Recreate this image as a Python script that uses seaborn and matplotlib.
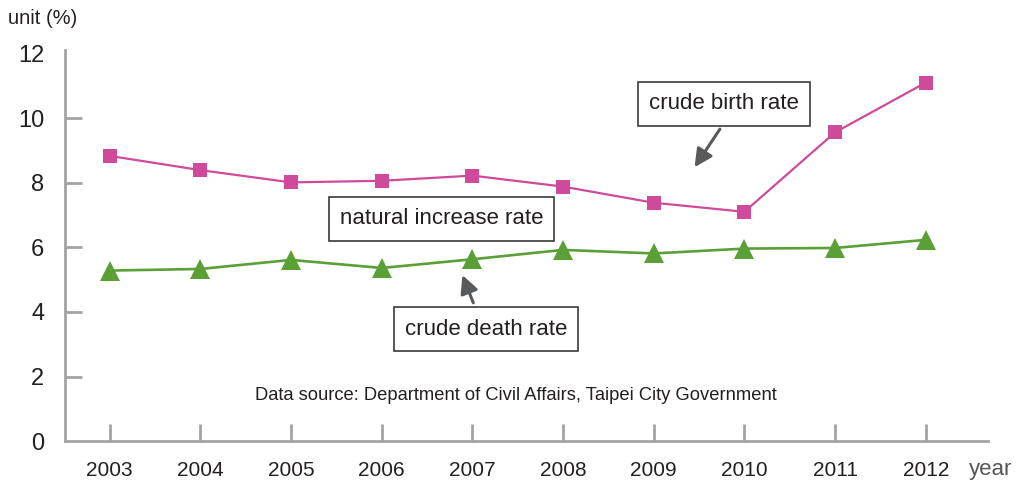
import matplotlib
matplotlib.use("Agg")
import matplotlib.pyplot as plt
import seaborn as sns
import pandas as pd

years = [2003, 2004, 2005, 2006, 2007, 2008, 2009, 2010, 2011, 2012]
birth_rate = [8.83, 8.39, 8.01, 8.06, 8.22, 7.88, 7.38, 7.10, 9.56, 11.10]
death_rate = [5.28, 5.33, 5.61, 5.36, 5.63, 5.92, 5.81, 5.96, 5.98, 6.23]
y_ticks = [0, 2, 4, 6, 8, 10, 12]

PINK = "#cf4a9b"
GREEN = "#5aa036"
AXIS = "#a3a3a5"
TEXT = "#231f20"

sns.set_theme(style="white")
plt.rcParams["font.family"] = ["Liberation Sans", "DejaVu Sans"]

df_birth = pd.DataFrame({"year": years, "rate": birth_rate})
df_death = pd.DataFrame({"year": years, "rate": death_rate})

fig = plt.figure(figsize=(10.22, 4.8), dpi=100)
ax = fig.add_axes([65.3 / 1022, 1 - 441.1 / 480, (988.3 - 65.3) / 1022, (441.1 - 50.3) / 480])

sns.lineplot(data=df_birth, x="year", y="rate", ax=ax, color=PINK, lw=1.6,
             marker="s", markersize=9.8, markeredgewidth=0, markerfacecolor=PINK)
sns.lineplot(data=df_death, x="year", y="rate", ax=ax, color=GREEN, lw=1.9,
             marker="^", markersize=14.5, markeredgewidth=0, markerfacecolor=GREEN)

ax.set_xlim(2002.51, 2012.69)
ax.set_ylim(0, 12.1)
ax.set_xlabel("")
ax.set_ylabel("")
ax.set_xticks(years)
ax.set_xticklabels([str(y) for y in years])
ax.set_yticks(y_ticks)
ax.set_yticklabels([str(v) for v in y_ticks])

for s in ["top", "right"]:
    ax.spines[s].set_visible(False)
for s in ["left", "bottom"]:
    ax.spines[s].set_color(AXIS)
    ax.spines[s].set_linewidth(2.0)

ax.tick_params(axis="both", direction="in", length=12, width=2.0, color=AXIS,
               labelcolor=TEXT)
ax.tick_params(axis="y", pad=15, labelsize=17, left=True)
ax.tick_params(axis="x", pad=14, labelsize=15, bottom=True)
for lab in ax.get_yticklabels():
    lab.set_family(["Liberation Sans Narrow", "Liberation Sans", "DejaVu Sans"])
ax.yaxis.get_major_ticks()[-1].tick1line.set_visible(False)
ax.yaxis.get_major_ticks()[0].tick1line.set_visible(False)

# axis titles
fig.text(8 / 1022, 1 - 19 / 480, "unit (%)", fontsize=14.5, color=TEXT, va="center", ha="left")
fig.text(969 / 1022, 1 - 469 / 480, "year", fontsize=16, color="#555555", va="center",
         ha="left", fontweight="light")

# source
ax.text(2007.48, 1.40, "Data source: Department of Civil Affairs, Taipei City Government",
        fontsize=13.2, color=TEXT, ha="center", va="center")

box = dict(boxstyle="square,pad=0.5", fc="white", ec="#3a3a3a", lw=1.2)
ax.text(2009.77, 10.44, "crude birth rate", fontsize=16, color=TEXT, ha="center",
        va="center", bbox=box)
ax.text(2006.66, 6.88, "natural increase rate", fontsize=16, color=TEXT, ha="center",
        va="center", bbox=box)
ax.text(2007.15, 3.47, "crude death rate", fontsize=16, color=TEXT, ha="center",
        va="center", bbox=box)

arrow = dict(arrowstyle="-|>,head_length=0.9,head_width=0.45", color="#58595b", lw=2.2,
             shrinkA=0, shrinkB=0)
ax.annotate("", xy=(2009.45, 8.48), xytext=(2009.73, 9.66), arrowprops=arrow)
ax.annotate("", xy=(2006.89, 5.14), xytext=(2007.01, 4.28), arrowprops=arrow)

fig.savefig("out.png", dpi=100)
